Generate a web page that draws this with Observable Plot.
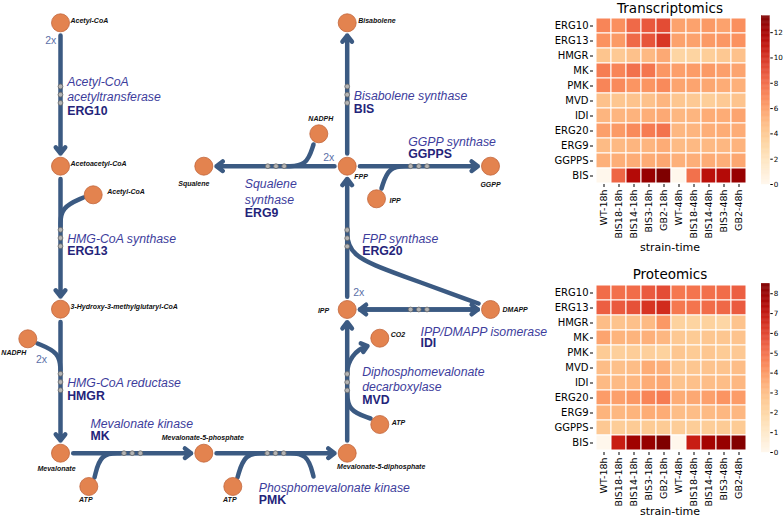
<!DOCTYPE html>
<html><head><meta charset="utf-8">
<script src="https://cdn.jsdelivr.net/npm/d3@7"></script>
<script src="https://cdn.jsdelivr.net/npm/@observablehq/plot@0.6"></script>
<style>
body{margin:0;background:#fff;}
#root{position:relative;width:784px;height:518px;overflow:hidden;background:#fff;}
#root > svg, #root > div{position:absolute;}
.ttl{font-family:"DejaVu Sans";font-size:13.5px;color:#000;white-space:nowrap;transform:translate(-50%,-50%);}
.xl{font-family:"DejaVu Sans";font-size:11px;color:#000;white-space:nowrap;transform:translate(-50%,-50%);}
</style>
</head><body><div id="root"></div>
<script>
// ---------- heatmap data ----------
const strains = ["WT-18h","BIS18-18h","BIS14-18h","BIS3-18h","GB2-18h","WT-48h","BIS18-48h","BIS14-48h","BIS3-48h","GB2-48h"];
const genes = ["ERG10","ERG13","HMGR","MK","PMK","MVD","IDI","ERG20","ERG9","GGPPS","BIS"];
const transcriptomics = [
  [7.0, 6.6, 8.1, 8.7, 9.1, 5.9, 5.9, 6.2, 5.9, 6.6],
  [6.5, 6.2, 8.1, 8.8, 9.8, 5.9, 5.9, 6.2, 6.3, 6.5],
  [4.3, 4.0, 4.5, 4.9, 5.6, 3.2, 3.3, 3.7, 4.1, 4.5],
  [7.3, 7.0, 7.8, 7.6, 6.3, 6.0, 6.1, 6.2, 6.0, 5.8],
  [7.0, 6.8, 6.4, 6.4, 6.8, 5.8, 5.8, 5.7, 5.5, 5.3],
  [4.5, 4.2, 4.4, 4.5, 5.1, 4.2, 4.0, 3.7, 4.0, 4.4],
  [5.1, 5.1, 5.2, 5.4, 5.6, 5.0, 5.1, 5.5, 5.5, 5.8],
  [6.0, 6.2, 6.8, 7.4, 7.7, 5.0, 5.1, 5.4, 5.5, 5.5],
  [4.8, 4.9, 5.1, 5.1, 5.5, 4.8, 4.9, 4.9, 5.0, 5.2],
  [5.3, 5.4, 5.5, 5.5, 5.7, 5.3, 5.4, 5.5, 5.4, 5.7],
  [0.0, 8.2, 11.5, 12.5, 13.3, 0.0, 7.8, 11.2, 11.5, 12.5]
];
const proteomics = [
  [5.1, 5.0, 5.1, 5.5, 5.8, 4.8, 4.9, 5.0, 5.1, 5.4],
  [5.4, 5.5, 5.7, 6.3, 6.5, 4.8, 4.9, 5.1, 5.2, 5.5],
  [3.0, 2.8, 2.9, 3.1, 4.0, 2.2, 2.1, 2.2, 2.0, 2.8],
  [3.7, 3.3, 3.3, 3.4, 3.2, 2.6, 2.5, 2.7, 2.7, 2.8],
  [2.5, 2.3, 2.4, 2.3, 2.2, 2.7, 2.5, 2.7, 2.5, 2.6],
  [3.0, 2.9, 3.0, 3.5, 3.4, 2.6, 2.7, 2.8, 2.8, 3.0],
  [3.1, 3.1, 3.2, 3.5, 3.6, 2.8, 2.9, 3.0, 3.0, 3.2],
  [3.9, 3.8, 4.0, 4.5, 4.7, 3.5, 3.6, 3.8, 4.1, 3.9],
  [3.3, 3.2, 3.3, 3.5, 3.5, 3.0, 3.0, 3.1, 3.2, 3.2],
  [2.6, 2.4, 2.5, 2.5, 2.5, 2.4, 2.4, 2.4, 2.5, 2.5],
  [0.0, 6.8, 7.8, 8.0, 8.5, 0.0, 6.8, 7.7, 8.0, 8.4]
];
const transcriptTicks = [0, 2, 4, 6, 8, 10, 12];
const proteinTicks = [0, 1, 2, 3, 4, 5, 6, 7, 8];

// ---------- pathway diagram (layout units = panel pixels) ----------
const nodes = [
  {id:"acCoA",  label:"Acetyl-CoA", x:60, y:22.3, anchor:"start", ldx:10, ldy:-2},
  {id:"acacCoA",label:"Acetoacetyl-CoA", x:60, y:165.7, anchor:"start", ldx:10, ldy:-2},
  {id:"acCoA2", label:"Acetyl-CoA", x:92.7, y:194.3, anchor:"start", ldx:14, ldy:-3},
  {id:"hmgCoA", label:"3-Hydroxy-3-methylglutaryl-CoA", x:60, y:308.7, anchor:"start", ldx:10, ldy:-2},
  {id:"nadph1", label:"NADPH", x:27.3, y:338.3, anchor:"middle", ldx:-14, ldy:14},
  {id:"mev",    label:"Mevalonate", x:60, y:452.7, anchor:"middle", ldx:-4, ldy:16},
  {id:"atp1",   label:"ATP", x:88.3, y:486, anchor:"middle", ldx:-3, ldy:13.5},
  {id:"mev5p",  label:"Mevalonate-5-phosphate", x:203.3, y:452.7, anchor:"middle", ldx:-1, ldy:-15},
  {id:"atp2",   label:"ATP", x:232.3, y:486, anchor:"middle", ldx:-3, ldy:13.5},
  {id:"mev5pp", label:"Mevalonate-5-diphosphate", x:346.7, y:452.7, anchor:"middle", ldx:34, ldy:14},
  {id:"ipp",    label:"IPP", x:346.7, y:309, anchor:"end", ldx:-18, ldy:1},
  {id:"dmapp",  label:"DMAPP", x:490, y:309, anchor:"start", ldx:12, ldy:0},
  {id:"co2",    label:"CO2", x:379.3, y:337.7, anchor:"start", ldx:11, ldy:-3},
  {id:"atp3",   label:"ATP", x:379.3, y:424, anchor:"start", ldx:12, ldy:-2},
  {id:"fpp",    label:"FPP", x:346.7, y:165.7, anchor:"start", ldx:7, ldy:11},
  {id:"bisab",  label:"Bisabolene", x:346.7, y:22.3, anchor:"start", ldx:11, ldy:-2},
  {id:"nadph2", label:"NADPH", x:318.3, y:133.3, anchor:"middle", ldx:2, ldy:-15},
  {id:"squal",  label:"Squalene", x:203.3, y:165.7, anchor:"middle", ldx:-10, ldy:17.5},
  {id:"ggpp",   label:"GGPP", x:490, y:165.7, anchor:"middle", ldx:0, ldy:19},
  {id:"ipp2",   label:"IPP", x:376, y:198.3, anchor:"start", ldx:13, ldy:2}
];
const reactions = [
  {gene:"ERG10", from:"acCoA", to:"acacCoA", name:"Acetyl-CoA\nacetyltransferase", tx:66.7, ty:80, gy:111, dot:[60,94.2], dir:"v"},
  {gene:"ERG13", from:"acacCoA", to:"hmgCoA", name:"HMG-CoA synthase", tx:66.7, ty:237.7, gy:251, dot:[60,237.5], dir:"v"},
  {gene:"HMGR", from:"hmgCoA", to:"mev", name:"HMG-CoA reductase", tx:66.7, ty:381.7, gy:395.3, dot:[60,381.5], dir:"v"},
  {gene:"MK", from:"mev", to:"mev5p", name:"Mevalonate kinase", tx:90, ty:422.3, gy:435.5, dot:[131.7,452.7], dir:"h"},
  {gene:"PMK", from:"mev5p", to:"mev5pp", name:"Phosphomevalonate kinase", tx:258.3, ty:486.7, gy:500, dot:[275,452.7], dir:"h"},
  {gene:"MVD", from:"mev5pp", to:"ipp", name:"Diphosphomevalonate\ndecarboxylase", tx:361.7, ty:370, gy:399.5, dot:[346.7,381.7], dir:"v"},
  {gene:"IDI", from:"ipp", to:"dmapp", both:true, name:"IPP/DMAPP isomerase", tx:420, ty:330, gy:343, dot:[418.3,309], dir:"h"},
  {gene:"ERG20", from:"ipp", to:"fpp", name:"FPP synthase", tx:361.7, ty:237.7, gy:251, dot:[346.7,237.7], dir:"v"},
  {gene:"BIS", from:"fpp", to:"bisab", name:"Bisabolene synthase", tx:353.3, ty:94.3, gy:108.3, dot:[346.7,94.2], dir:"v"},
  {gene:"ERG9", from:"fpp", to:"squal", name:"Squalene\nsynthase", tx:244.3, ty:182.7, gy:212.3, dot:[275.5,165.7], dir:"h"},
  {gene:"GGPPS", from:"fpp", to:"ggpp", name:"GGPP synthase", tx:407.7, ty:140, gy:154, dot:[418.3,165.7], dir:"h"}
];
const branches = [
  {id:"ERG13-acCoA", pts:[[83,197],[60,207],[60,226]]},
  {id:"HMGR-nadph", pts:[[37,343],[59,352],[60,370]]},
  {id:"MK-atp", pts:[[94,477],[100,452.7],[120,452.7]]},
  {id:"PMK-atp", pts:[[237,477],[244,452.7],[264,452.7]]},
  {id:"PMK-adp", pts:[[286,452.7],[307,452.7],[313,476]]},
  {id:"MVD-atp", pts:[[370,418],[347,410],[346.7,390]]},
  {id:"ERG9-nadph", pts:[[313,144],[306,165.7],[286,165.7]]},
  {id:"GGPPS-ipp", pts:[[381,188],[388,165.7],[408,165.7]]},
  {id:"ERG20-dmapp", pts:[[478,303],[400,274.6],[346.7,255],[346.7,228]]}
];
const releases = [{id:"MVD-co2", x1:346.7, y1:373, x2:367, y2:345.5, bend:37}];
const twoX = [
  {x:50.3, y:40}, {x:41, y:359}, {x:328.3, y:156.7}, {x:358.3, y:291.7}
];

// ---------- styles ----------
const LINE = "#3b5a82";
const NODE_FILL = "#e3834f", NODE_STROKE = "#c2653a";
const SANS = "Liberation Sans, Arial, sans-serif";

const root = document.getElementById("root");
const byId = Object.fromEntries(nodes.map(d => [d.id, d]));

const arrows = [];
for (const r of reactions) {
  arrows.push({a: byId[r.from], b: byId[r.to]});
  if (r.both) arrows.push({a: byId[r.to], b: byId[r.from]});
}
const branchPts = branches.flatMap(b => b.pts.map(p => ({id: b.id, x: p[0], y: p[1]})));
const dotPts = reactions.flatMap(r => [-8.2, 0, 8.2].map(o => ({
  x: r.dot[0] + (r.dir === "h" ? o : 0), y: r.dot[1] + (r.dir === "v" ? o : 0)
})));
const LH = 15.7;

const diagram = Plot.plot({
  width: 540, height: 518, margin: 0,
  x: {domain: [0, 540], range: [0, 540], axis: null},
  y: {domain: [0, 518], range: [0, 518], axis: null},
  style: {background: "transparent", overflow: "visible"},
  marks: [
    Plot.line(branchPts, {x: "x", y: "y", z: "id", curve: "basis", stroke: LINE, strokeWidth: 4.5}),
    Plot.arrow(arrows, {x1: d => d.a.x, y1: d => d.a.y, x2: d => d.b.x, y2: d => d.b.y,
      insetStart: 12.7, insetEnd: 12.7, stroke: LINE, strokeWidth: 4.5, headLength: 2.6, headAngle: 75}),
    Plot.arrow(releases, {x1: "x1", y1: "y1", x2: "x2", y2: "y2", bend: 37,
      stroke: LINE, strokeWidth: 4.5, headLength: 2.4, headAngle: 75}),
    Plot.dot(dotPts, {x: "x", y: "y", r: 2.4, fill: "#b4b4b4", stroke: "#6a6a6a", strokeWidth: 0.8}),
    Plot.dot(nodes, {x: "x", y: "y", r: 9, fill: NODE_FILL, stroke: NODE_STROKE, strokeWidth: 0.8}),
    ...["start", "middle", "end"].map(a => Plot.text(nodes.filter(d => d.anchor === a), {
      x: d => d.x + d.ldx, y: d => d.y + d.ldy, text: "label", textAnchor: a,
      fontFamily: SANS, fontSize: 7, fontWeight: "bold", fontStyle: "italic", fill: "#111"})),
    Plot.text(reactions, {x: "tx", y: d => d.ty + (d.name.split("\n").length - 1) * LH / 2,
      text: "name", textAnchor: "start", lineHeight: LH / 12.3,
      fontFamily: SANS, fontSize: 12.3, fontStyle: "italic", fill: "#3d3d9c"}),
    Plot.text(reactions, {x: "tx", y: "gy", text: "gene", textAnchor: "start",
      fontFamily: SANS, fontSize: 12.3, fontWeight: "bold", fill: "#24247a"}),
    Plot.text(twoX, {x: "x", y: "y", text: () => "2x", fontFamily: SANS, fontSize: 10.5, fill: "#5b70a8"})
  ]
});
diagram.style.left = "0px"; diagram.style.top = "0px";
root.appendChild(diagram);

// ---------- heatmaps ----------
function heatmap(title, values, ticks, top, H, mt, mb, cbMt, cbMb, titleY, xlabY) {
  const max = d3.max(values.flat());
  const rows = genes.flatMap((g, i) => strains.map((s, j) => ({gene: g, strain: s, value: values[i][j]})));
  const color = {type: "linear", scheme: "OrRd", domain: [0, max]};
  const hm = Plot.plot({
    width: 215, height: H, marginLeft: 53, marginRight: 7, marginTop: mt, marginBottom: mb,
    x: {domain: strains, padding: 0},
    y: {domain: genes, padding: 0},
    color,
    style: {background: "transparent", overflow: "visible", fontFamily: "DejaVu Sans", fontSize: "10px"},
    marks: [
      Plot.cell(rows, {x: "strain", y: "gene", fill: "value", stroke: "white", strokeWidth: 1, inset: 0}),
      Plot.axisY({label: null, tickSize: 3, tickPadding: 2, fontSize: 10, fontFamily: "DejaVu Sans", fill: "#000"}),
      Plot.axisX({label: null, tickSize: 3, tickPadding: 2, tickRotate: -90, fontSize: 9.5, fontFamily: "DejaVu Sans", fill: "#000"})
    ]
  });
  hm.style.left = "540px"; hm.style.top = top + "px";
  root.appendChild(hm);

  const N = 200;
  const steps = d3.range(N).map(i => ({v0: i * max / N, v1: (i + 1) * max / N}));
  const cb = Plot.plot({
    width: 29, height: 200, marginLeft: 6.3, marginRight: 14.7, marginTop: cbMt, marginBottom: cbMb,
    x: {domain: [0, 1], axis: null},
    y: {domain: [0, max]},
    color,
    style: {background: "transparent", overflow: "visible", fontFamily: "DejaVu Sans"},
    marks: [
      Plot.rect(steps, {x1: () => 0, x2: () => 1, y1: "v0", y2: "v1",
        fill: d => (d.v0 + d.v1) / 2, stroke: d => (d.v0 + d.v1) / 2, strokeWidth: 0.4}),
      Plot.axisY({anchor: "right", ticks, tickFormat: d => d, label: null, tickSize: 2.5, tickPadding: 1.5, fontSize: 7.2, fontFamily: "DejaVu Sans", fill: "#000"})
    ]
  });
  cb.style.left = "755px"; cb.style.top = top + "px";
  root.appendChild(cb);

  const t = document.createElement("div");
  t.className = "ttl"; t.textContent = title;
  t.style.left = "670px"; t.style.top = titleY + "px";
  root.appendChild(t);
  const xl = document.createElement("div");
  xl.className = "xl"; xl.textContent = "strain-time";
  xl.style.left = "670px"; xl.style.top = xlabY + "px";
  root.appendChild(xl);
}
heatmap("Transcriptomics", transcriptomics, transcriptTicks, 0, 255, 16, 71, 15.7, 16, 7.5, 247);
heatmap("Proteomics", proteomics, proteinTicks, 260, 258, 23.3, 66, 23.3, 8, 273.5, 511);
</script>
</body></html>
